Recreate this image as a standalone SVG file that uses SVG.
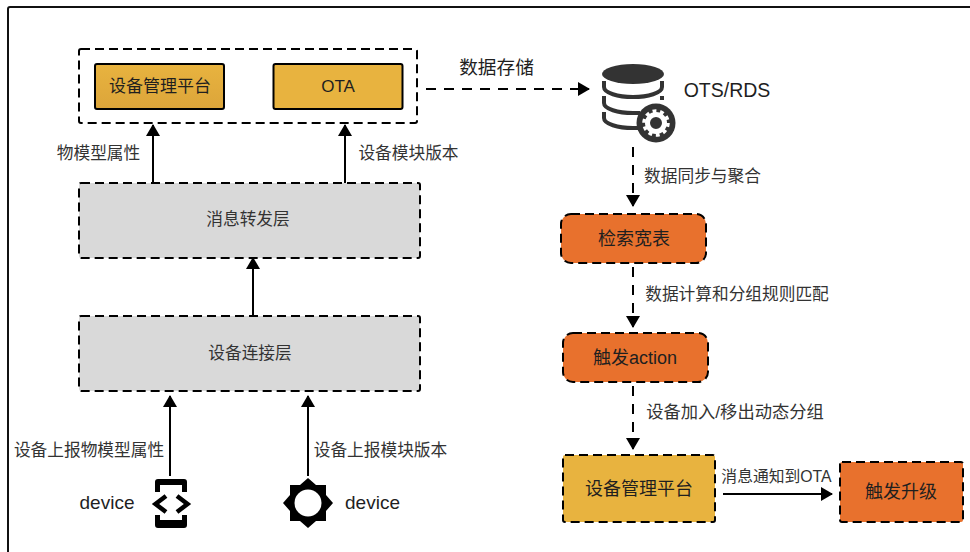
<svg xmlns="http://www.w3.org/2000/svg" width="970" height="552" viewBox="0 0 970 552">
<style>
text{font-family:"Liberation Sans","Noto Sans CJK SC",sans-serif;fill:#1f1f1f;text-anchor:middle;font-size:17px}
.s{font-size:16.700px;fill:#333}
.m{font-size:18px}
.d{stroke:#000;stroke-width:2;stroke-dasharray:9 5}
.l{fill:none;stroke:#000;stroke-width:2}
.ld{fill:none;stroke:#000;stroke-width:2;stroke-dasharray:10 8}
.y{fill:#e8b33f}.o{fill:#e8712d}.g{fill:#d9d9d9}
.ic{fill:#333}
</style>
<defs>
<marker id="a" viewBox="0 0 12 14" refX="11" refY="7" markerWidth="12" markerHeight="14" markerUnits="userSpaceOnUse" orient="auto"><path d="M0 0L12 7L0 14Z" fill="#000"/></marker>
<linearGradient id="gr" x1="0" y1="0" x2="0" y2="1"><stop offset="0" stop-color="#e8b33f"/><stop offset="1" stop-color="#dca53a"/></linearGradient>
</defs>
<rect width="970" height="552" fill="#fff"/>
<path d="M970 7H10Q8 7 8 9V552" fill="none" stroke="#111" stroke-width="2"/>
<g id="connectors">
<path class="l" d="M153 183V125" marker-end="url(#a)"/>
<path class="l" d="M345 183V125" marker-end="url(#a)"/>
<path class="l" d="M253 316V258" marker-end="url(#a)"/>
<path class="l" d="M170 476V396" marker-end="url(#a)"/>
<path class="l" d="M308 476V396" marker-end="url(#a)"/>
<path class="ld" d="M426 89H589" marker-end="url(#a)"/>
<path class="ld" d="M633 147V206" marker-end="url(#a)"/>
<path class="ld" d="M633 267V327" marker-end="url(#a)"/>
<path class="ld" d="M633 386V449" marker-end="url(#a)"/>
<path class="l" d="M723 494H832" marker-end="url(#a)"/>
</g>
<g id="platform-group"><rect x="79" y="49" width="338" height="74" rx="2" fill="none" class="d"/></g>
<g id="node-platform-top"><rect x="95" y="64" width="129" height="45" rx="2" fill="url(#gr)" stroke="#000" stroke-width="2"/><text x="160" y="92">设备管理平台</text></g>
<g id="node-ota"><rect x="273.500" y="64" width="129" height="45" rx="2" class="y" stroke="#000" stroke-width="2"/><text x="338" y="92">OTA</text></g>
<g id="node-forward"><rect x="79" y="183" width="341" height="75" rx="2" class="g d"/><text class="s" x="248" y="225">消息转发层</text></g>
<g id="node-connect"><rect x="79" y="316" width="341" height="75" rx="2" class="g d"/><text class="s" x="250" y="359">设备连接层</text></g>
<g id="node-ots">
<ellipse class="ic" cx="633" cy="74" rx="31" ry="10"/>
<path d="M604 81V87C604 93 618 97 633 97C648 97 662 93 662 87V81M604 96V103C604 109 618 113 633 113H640M662 96V100M604 112V118C604 124 618 128 633 128H638" fill="none" stroke="#333" stroke-width="4"/>
<circle class="ic" cx="656" cy="123" r="19.500"/>
<circle cx="656" cy="123" r="8.500" fill="none" stroke="#fff" stroke-width="5"/>
<circle cx="656" cy="123" r="12" fill="none" stroke="#fff" stroke-width="3.500" stroke-dasharray="3.800 3.740"/>
<text class="m" style="font-size:19.500px" x="727" y="97">OTS/RDS</text>
</g>
<g id="node-search"><rect x="561" y="214" width="145" height="49" rx="10" class="o d"/><text class="m" x="634" y="245">检索宽表</text></g>
<g id="node-action"><rect x="563" y="333" width="145" height="49" rx="10" class="o d"/><text class="m" x="635" y="364">触发action</text></g>
<g id="node-platform"><rect x="563" y="455" width="152" height="67" rx="2" class="y d"/><text class="m" x="639" y="495">设备管理平台</text></g>
<g id="node-upgrade"><rect x="840" y="462" width="123" height="60" rx="2" class="o d"/><text class="m" x="901" y="498">触发升级</text></g>
<g id="node-device1">
<path d="M155 492V482Q155 479 158 479H184Q187 479 187 482V492H182V485H160V492Z M155 515V525Q155 528 158 528H184Q187 528 187 525V515H182V520H160V515Z" fill="#000"/>
<path d="M166 496L155.500 504L166 512M177 496L187.500 504L177 512" fill="none" stroke="#000" stroke-width="4.500"/>
<text style="font-size:19px" x="107" y="509">device</text>
</g>
<g id="node-device2">
<path d="M308 478L316 485H326V495L333 503L326 511V521H316L308 528L300 521H290V511L283 503L290 495V485H300Z" fill="#000"/>
<circle cx="308" cy="503" r="13.500" fill="#fff"/>
<text style="font-size:19px" x="372.500" y="509">device</text>
</g>
<g id="labels">
<text style="font-size:18.700px" x="496.500" y="74">数据存储</text>
<text class="s" x="98.500" y="159">物模型属性</text>
<text class="s" x="408.500" y="159">设备模块版本</text>
<text class="s" x="702.500" y="182">数据同步与聚合</text>
<text class="s" x="737" y="300">数据计算和分组规则匹配</text>
<text class="s" style="font-size:17.300px" x="735" y="418">设备加入/移出动态分组</text>
<text class="s" x="89" y="456">设备上报物模型属性</text>
<text class="s" x="380.500" y="456">设备上报模块版本</text>
<text style="font-size:15.800px;fill:#333" x="776.500" y="482">消息通知到OTA</text>
</g>
</svg>
